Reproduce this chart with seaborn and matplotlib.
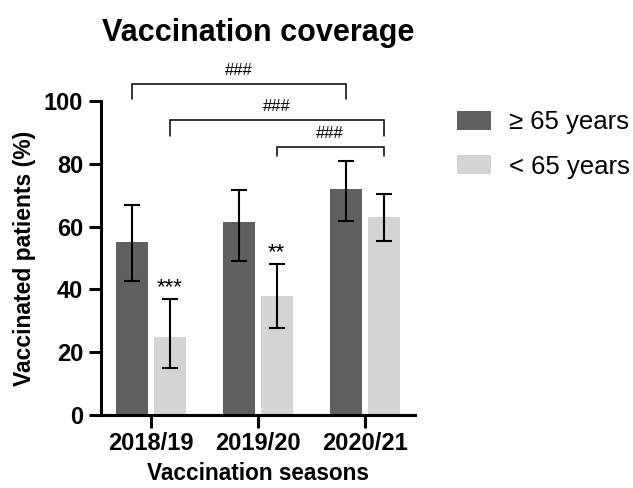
import matplotlib
matplotlib.use("Agg")
import matplotlib.pyplot as plt
import seaborn as sns
import pandas as pd
from matplotlib.patches import Patch

seasons = ["2018/19", "2019/20", "2020/21"]
groups = ["\u2265 65 years", "< 65 years"]
old_vals = [55.0, 61.4, 72.1]
old_lo = [42.8, 49.1, 61.9]
old_hi = [67.0, 71.6, 80.9]
young_vals = [24.8, 37.9, 63.0]
young_lo = [14.8, 27.8, 55.3]
young_hi = [37.0, 47.9, 70.5]
stars = ["***", "**", ""]
brackets = [  # (group_a, season_a, group_b, season_b, height, drop, label)
    (0, 0, 0, 2, 105.4, 100.6, "###"),
    (1, 0, 1, 2, 94.0, 89.0, "###"),
    (1, 1, 1, 2, 85.3, 82.6, "###"),
]
colors = ["#606060", "#d4d4d4"]

sns.set_theme(style="ticks")
plt.rcParams["font.family"] = ["Liberation Sans", "DejaVu Sans"]
plt.rcParams["text.color"] = "black"
plt.rcParams["axes.labelcolor"] = "black"

df = pd.DataFrame({
    "season": seasons * 2,
    "group": [groups[0]] * 3 + [groups[1]] * 3,
    "value": old_vals + young_vals,
})

fig = plt.figure(figsize=(6.33, 4.88), dpi=100)
ax = fig.add_axes([0.159, 0.150, 0.497, 0.643])
sns.barplot(data=df, x="season", y="value", hue="group", order=seasons,
            hue_order=groups, palette=colors, width=0.7, gap=0.14,
            errorbar=None, saturation=1, linewidth=0, ax=ax, legend=False)

centres = [[None] * 3, [None] * 3]
bars = [p for p in ax.patches]
for gi in range(2):
    for si in range(3):
        p = bars[gi * 3 + si]
        centres[gi][si] = p.get_x() + p.get_width() / 2

vals = [old_vals, young_vals]
los = [old_lo, young_lo]
his = [old_hi, young_hi]
for gi in range(2):
    for si in range(3):
        v = vals[gi][si]
        ax.errorbar(centres[gi][si], v,
                    yerr=[[v - los[gi][si]], [his[gi][si] - v]],
                    fmt="none", ecolor="black", elinewidth=1.5,
                    capsize=5.5, capthick=1.5, zorder=5)

for si, s in enumerate(stars):
    if s:
        ax.text(centres[1][si], young_hi[si] + 0.3, s, ha="center",
                va="bottom", fontsize=16, color="black")

for ga, sa, gb, sb, h, d, lab in brackets:
    xa = centres[ga][sa]
    xb = centres[gb][sb]
    ax.plot([xa, xa, xb, xb], [d, h, h, d], color="black", lw=1.1,
            clip_on=False, solid_joinstyle="miter")
    ax.text((xa + xb) / 2, h + 2.0, lab, ha="center", va="bottom",
            fontsize=12, color="black")

ax.set_ylim(0, 100)
ax.set_xlim(-0.47, 2.47)
ax.set_yticks([0, 20, 40, 60, 80, 100])
sns.despine(ax=ax)
for sp in ["left", "bottom"]:
    ax.spines[sp].set_linewidth(2.2)
    ax.spines[sp].set_color("black")
ax.tick_params(axis="both", width=2.2, length=9, color="black",
               labelsize=17, labelcolor="black", pad=3.5)
for lab in ax.get_xticklabels() + ax.get_yticklabels():
    lab.set_fontweight("bold")
ax.set_xlabel("Vaccination seasons", fontsize=16.3, fontweight="bold",
              color="black", labelpad=5)
ax.set_ylabel("Vaccinated patients (%)", fontsize=16.5, fontweight="bold",
              color="black", labelpad=6)

pos = ax.get_position()
fig.text((pos.x0 + pos.x1) / 2, 1 - 33 / 488, "Vaccination coverage",
         ha="center", va="center", fontsize=22, fontweight="bold",
         color="black")

handles = [Patch(facecolor=c, edgecolor="none") for c in colors]
leg = fig.legend(handles, groups, loc="upper left",
                 bbox_to_anchor=(447 / 633, 1 - 100 / 488), frameon=False,
                 fontsize=18.5, handlelength=1.3, handleheight=0.75,
                 handletextpad=0.7, labelspacing=0.8, borderaxespad=0)
for t in leg.get_texts():
    t.set_color("black")

fig.savefig("out.png", dpi=100)
